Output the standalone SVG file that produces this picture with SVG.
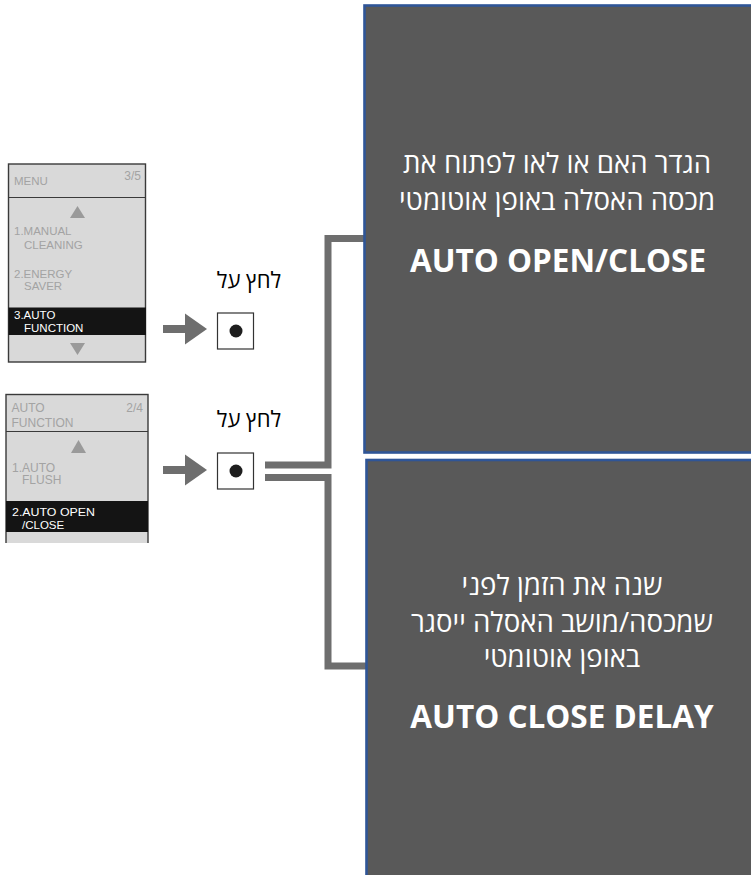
<svg xmlns="http://www.w3.org/2000/svg" width="751" height="875" viewBox="0 0 751 875">
<style>
.scr{fill:#d9d9d9;stroke:#3a3a3a;stroke-width:1.4}
.div{stroke:#3a3a3a;stroke-width:1.2}
.sel{fill:#141414}
.mt{font-family:"Liberation Sans",Arial,sans-serif;font-size:12px;fill:#a3a3a3}
.mw{font-family:"Liberation Sans",Arial,sans-serif;font-size:12px;fill:#ffffff}
.s1{font-size:11.5px}
.tri{fill:#9a9a9a}
.arr{fill:#6e6e6e}
.btn{fill:#ffffff;stroke:#333333;stroke-width:1.2}
.dot{fill:#1e1e1e}
.lbl{font-family:"Open Sans","DejaVu Sans",sans-serif;font-size:22px;fill:#000000}
.box{fill:#595959;stroke:#2f5597;stroke-width:2.6}
.ht{font-family:"Open Sans","DejaVu Sans",sans-serif;font-size:27.6px;fill:#ffffff}
.bt{font-family:"Open Sans","DejaVu Sans",sans-serif;font-size:31.5px;font-weight:bold;fill:#ffffff}
.con{fill:none;stroke:#6e6e6e;stroke-width:7;stroke-linejoin:miter}
</style>

<g id="connectors">
<path class="con" d="M265,465 H328 V238.5 H365"/>
<path class="con" d="M265,477.5 H328 V666 H366"/>
</g>

<g id="screen-menu">
<rect class="scr" x="8.5" y="164" width="137" height="198"/>
<line class="div" x1="8.5" y1="197.5" x2="145.5" y2="197.5"/>
<text class="mt s1" x="14" y="185">MENU</text>
<text class="mt" x="141" y="180" text-anchor="end" font-size="11">3/5</text>
<polygon class="tri" points="77.5,206 85,218 70,218"/>
<text class="mt s1" x="14" y="235">1.MANUAL</text>
<text class="mt s1" x="24" y="249">CLEANING</text>
<text class="mt s1" x="14" y="278">2.ENERGY</text>
<text class="mt s1" x="24" y="290">SAVER</text>
<rect class="sel" x="8.5" y="307.5" width="137.5" height="27.5"/>
<text class="mw s1" x="14" y="318.5">3.AUTO</text>
<text class="mw s1" x="24" y="331.5">FUNCTION</text>
<polygon class="tri" points="70,343 85,343 77.5,355"/>
</g>

<g id="screen-auto">
<rect class="scr" x="6" y="394.5" width="142" height="160"/>
<line class="div" x1="6" y1="431.5" x2="148" y2="431.5"/>
<text class="mt" x="11.5" y="411.5">AUTO</text>
<text class="mt" x="11.5" y="426.5">FUNCTION</text>
<text class="mt" x="143" y="411.5" text-anchor="end">2/4</text>
<polygon class="tri" points="78.5,440 86,453 71,453"/>
<text class="mt" x="12" y="471.5">1.AUTO</text>
<text class="mt" x="22" y="484">FLUSH</text>
<rect class="sel" x="6" y="501" width="142" height="31"/>
<text class="mw s1" x="12" y="516" textLength="83" lengthAdjust="spacingAndGlyphs">2.AUTO OPEN</text>
<text class="mw s1" x="22" y="528.5">/CLOSE</text>
<rect x="0" y="543" width="160" height="14" fill="#ffffff"/>
</g>

<g id="arrow-1">
<rect class="arr" x="163" y="325" width="23" height="8"/>
<polygon class="arr" points="185,313.5 207,329 185,344.5"/>
</g>
<g id="button-1">
<text class="lbl" x="249" y="288" text-anchor="middle" direction="rtl">לחץ על</text>
<rect class="btn" x="217.5" y="313" width="36" height="36"/>
<circle class="dot" cx="236" cy="331" r="6.5"/>
</g>

<g id="arrow-2">
<rect class="arr" x="163" y="466" width="23" height="8"/>
<polygon class="arr" points="185,454.5 207,470 185,485.5"/>
</g>
<g id="button-2">
<text class="lbl" x="249" y="427" text-anchor="middle" direction="rtl">לחץ על</text>
<rect class="btn" x="217.5" y="453" width="36" height="36"/>
<circle class="dot" cx="236" cy="471" r="6.5"/>
</g>

<g id="box-open-close">
<rect class="box" x="364.5" y="5.5" width="400" height="447"/>
<text class="ht" x="557" y="173" text-anchor="middle" direction="rtl">הגדר האם או לאו לפתוח את</text>
<text class="ht" x="557" y="210" text-anchor="middle" direction="rtl">מכסה האסלה באופן אוטומטי</text>
<text class="bt" x="558" y="272" text-anchor="middle">AUTO OPEN/CLOSE</text>
</g>

<g id="box-close-delay">
<rect class="box" x="366.5" y="460" width="400" height="430"/>
<text class="ht" x="562" y="595" text-anchor="middle" direction="rtl">שנה את הזמן לפני</text>
<text class="ht" x="562" y="632" text-anchor="middle" direction="rtl">שמכסה/מושב האסלה ייסגר</text>
<text class="ht" x="562" y="667" text-anchor="middle" direction="rtl">באופן אוטומטי</text>
<text class="bt" x="562" y="728" text-anchor="middle">AUTO CLOSE DELAY</text>
</g>
</svg>
